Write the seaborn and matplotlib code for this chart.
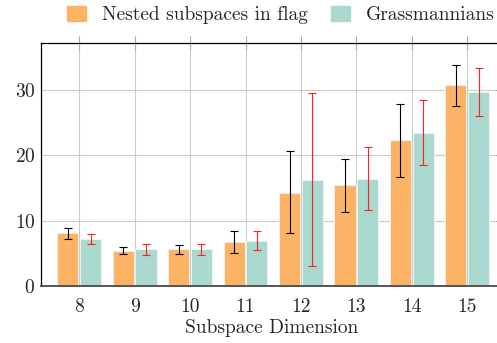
import matplotlib
matplotlib.use("Agg")
import matplotlib.pyplot as plt
import seaborn as sns
import pandas as pd
import numpy as np

dims = ["8", "9", "10", "11", "12", "13", "14", "15"]

flag_mean = [8.1, 5.4, 5.6, 6.7, 14.3, 15.5, 22.3, 30.7]
flag_hi = [8.9, 5.9, 6.3, 8.4, 20.7, 19.5, 27.9, 33.8]
flag_lo = [7.2, 4.9, 4.9, 5.0, 8.1, 11.4, 16.7, 27.6]

grass_mean = [7.2, 5.6, 5.6, 6.9, 16.2, 16.4, 23.4, 29.7]
grass_hi = [8.0, 6.4, 6.5, 8.4, 29.5, 21.3, 28.4, 33.3]
grass_lo = [6.4, 4.7, 4.7, 5.5, 3.1, 11.6, 18.5, 26.0]

labels = ["Nested subspaces in flag", "Grassmannians"]
colors = ["#fdb366", "#a9d9cf"]

df = pd.DataFrame({
    "dim": dims * 2,
    "value": flag_mean + grass_mean,
    "method": [labels[0]] * len(dims) + [labels[1]] * len(dims),
})

sns.set_style("white")
plt.rcParams["font.family"] = ["cmr10"]
plt.rcParams["axes.formatter.use_mathtext"] = True
plt.rcParams["mathtext.fontset"] = "cm"

fig = plt.figure(figsize=(4.97, 3.43), dpi=100)
ax = fig.add_axes([0.0825, 0.166, 0.93, 0.709])

sns.barplot(data=df, x="dim", y="value", hue="method", order=dims,
            hue_order=labels, palette=colors, saturation=1, width=0.82,
            gap=0.07, errorbar=None, edgecolor="#f4f4f4", linewidth=0.6,
            ax=ax, zorder=2)

# error bars on top of each bar, black for flag, red for grassmann
series = [(flag_mean, flag_lo, flag_hi, "black"),
          (grass_mean, grass_lo, grass_hi, "#ff2020")]
for cont, (m, lo, hi, c) in zip(ax.containers, series):
    xs = [p.get_x() + p.get_width() / 2 for p in cont.patches]
    m = np.array(m)
    err = [m - np.array(lo), np.array(hi) - m]
    ax.errorbar(xs, m, yerr=err, fmt="none", ecolor=c, elinewidth=0.8,
                capsize=3, capthick=0.8, zorder=3)

ax.set_xlim(-0.69, 7.65)
ax.set_ylim(0, 37.2)
ax.set_yticks([0, 10, 20, 30])
ax.grid(True, color="#cccccc", linewidth=0.8, zorder=0)
ax.set_axisbelow(True)

for s in ["left", "top"]:
    ax.spines[s].set_color("black")
    ax.spines[s].set_linewidth(0.9)
ax.spines["right"].set_visible(False)
ax.spines["bottom"].set_color("#555555")
ax.spines["bottom"].set_linewidth(1.4)

ax.tick_params(axis="x", direction="inout", length=10, color="#aaaaaa",
               labelsize=14, pad=4, top=True)
ax.tick_params(axis="y", direction="in", length=5, color="#888888",
               labelsize=14, pad=4, right=True)

ax.set_xlabel("Subspace Dimension", fontsize=14, labelpad=2)
ax.set_ylabel("")

ax.legend_.remove()
handles = [plt.Rectangle((0, 0), 1, 1, color=c) for c in colors]
fig.legend(handles, labels, loc="upper center", bbox_to_anchor=(0.565, 1.01),
           ncol=2, frameon=False, fontsize=14, handlelength=1.0,
           handleheight=0.8, handletextpad=0.8, columnspacing=1.2,
           borderaxespad=0.1)

fig.savefig("out.png", dpi=100)
